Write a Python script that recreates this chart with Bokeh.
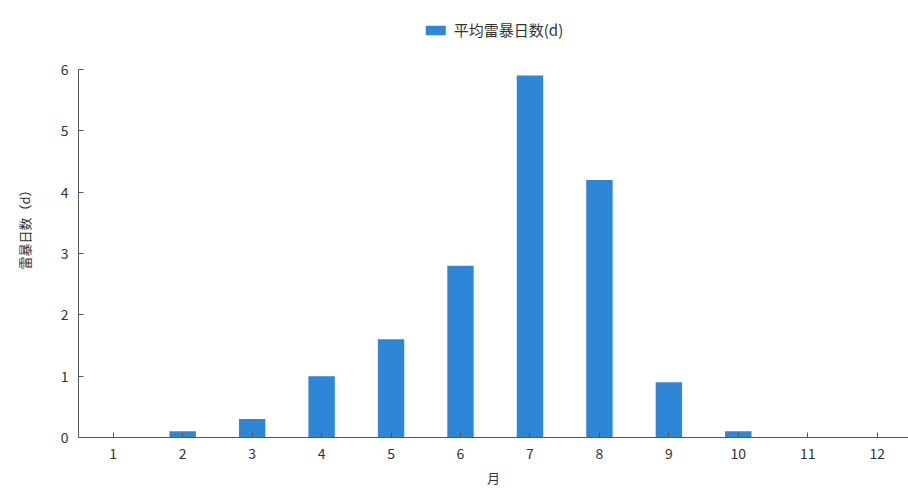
from bokeh.plotting import figure
from bokeh.models import ColumnDataSource, Range1d, FixedTicker, Legend, LegendItem
from bokeh.embed import file_html
from bokeh.resources import INLINE

months = [1, 2, 3, 4, 5, 6, 7, 8, 9, 10, 11, 12]
thunder_days = [0.0, 0.1, 0.3, 1.0, 1.6, 2.8, 5.9, 4.2, 0.9, 0.1, 0.0, 0.0]
y_ticks = [0, 1, 2, 3, 4, 5, 6]

FONT = "Noto Sans CJK SC"
BAR_COLOR = "#2f86d6"
AXIS_COLOR = "#555555"

source = ColumnDataSource(data=dict(month=months, days=thunder_days))

# the frame reaches above 6 so the legend can sit over the bars;
# the y axis itself stops at 6
p = figure(
    frame_width=830, frame_height=422,
    x_range=Range1d(0.5, 12.45), y_range=Range1d(0, 6.88),
    output_backend="svg", toolbar_location=None,
    min_border_left=78, min_border_right=0, min_border_bottom=52,
    min_border_top=15,
)
p.outline_line_color = None
p.xgrid.visible = False
p.ygrid.visible = False

bars = p.vbar(x="month", top="days", bottom=0, width=0.38, source=source,
              fill_color=BAR_COLOR, line_color=None)

for ax in (p.xaxis, p.yaxis):
    ax.axis_line_color = AXIS_COLOR
    ax.major_tick_line_color = AXIS_COLOR
    ax.major_tick_in = 5
    ax.major_tick_out = 0
    ax.minor_tick_line_color = None
    ax.major_label_text_font = FONT
    ax.major_label_text_font_size = "14px"
    ax.major_label_text_color = "#333333"
    ax.axis_label_text_font = FONT
    ax.axis_label_text_font_size = "13px"
    ax.axis_label_text_font_style = "normal"
    ax.axis_label_text_color = "#333333"

p.xaxis.ticker = FixedTicker(ticks=months)
p.yaxis.ticker = FixedTicker(ticks=y_ticks)
p.yaxis.bounds = (0, 6)
p.xaxis.axis_label = "月"
p.yaxis.axis_label = "雷暴日数（d）"
p.xaxis.major_label_standoff = 10
p.yaxis.major_label_standoff = 10
p.xaxis.axis_label_standoff = 6
p.yaxis.axis_label_standoff = 24

legend = Legend(items=[LegendItem(label="平均雷暴日数(d)", renderers=[bars])],
                location="top_center", orientation="horizontal",
                border_line_color=None, background_fill_alpha=0,
                glyph_width=25, glyph_height=12, label_standoff=6,
                label_text_font=FONT, label_text_font_size="15px",
                label_text_color="#333333", padding=2, margin=4)
p.add_layout(legend)

open("out.html", "w").write(file_html(p, INLINE))
